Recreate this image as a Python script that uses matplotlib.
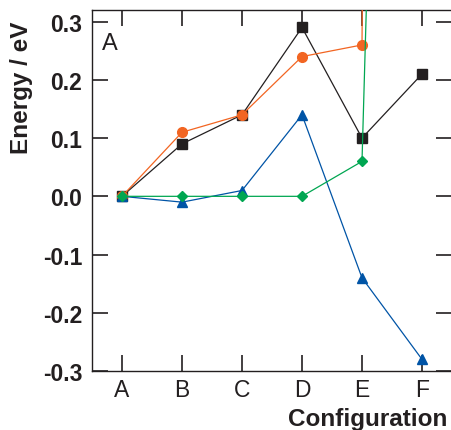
import matplotlib
matplotlib.use("Agg")
import matplotlib.pyplot as plt

configs = ["A", "B", "C", "D", "E", "F"]
black_sq = [0.0, 0.09, 0.14, 0.29, 0.10, 0.21]
orange_ci = [0.0, 0.11, 0.14, 0.24, 0.26, 15.0]
blue_tri = [0.0, -0.01, 0.01, 0.14, -0.14, -0.28]
green_di = [0.0, 0.0, 0.0, 0.0, 0.06, 3.7]
yticks = [-0.3, -0.2, -0.1, 0.0, 0.1, 0.2, 0.3]

plt.rcParams['font.family'] = ['Liberation Sans', 'DejaVu Sans']

fig = plt.figure(figsize=(4.52, 4.31), dpi=100)
ax = fig.add_axes([92/452, 59/431, 360/452, 361/431])

x = list(range(len(configs)))
ax.plot(x, black_sq, color='#231f20', lw=0.9, marker='s', ms=7, zorder=3)
ax.plot(x, orange_ci, color='#f26522', lw=0.9, marker='o', ms=7, zorder=4)
ax.plot(x, blue_tri, color='#0054a6', lw=0.9, marker='^', ms=7, zorder=5)
ax.plot(x, green_di, color='#00a651', lw=0.9, marker='D', ms=5, zorder=6)

ax.set_xlim(-0.5, 5.5)
ax.set_ylim(-0.3, 0.32)
ax.set_xticks(x)
ax.set_xticklabels(configs, fontsize=16.5)
ax.set_yticks(yticks)
ax.set_yticklabels([f"{v:.1f}" for v in yticks], fontsize=16.5, fontweight='bold')

ax.tick_params(axis='both', direction='in', length=11.5, width=1.2, color='#231f20',
               top=True, right=True, labelcolor='#231f20')
ax.tick_params(axis='y', pad=7)
ax.tick_params(axis='x', pad=5)
for side in ['left', 'bottom', 'top']:
    ax.spines[side].set_linewidth(1.0)
    ax.spines[side].set_color('#231f20')
ax.spines['right'].set_visible(False)

ax.text(0.028, 0.892, "A", transform=ax.transAxes, fontsize=17, color='#231f20',
        ha='left', va='baseline')

fig.text(22/452, 1 - 88/431, "Energy / eV", rotation=90, ha='center', va='center',
         fontsize=17.5, fontweight='bold', color='#231f20')
fig.text(447/452, 1 - 426/431, "Configuration", ha='right', va='baseline',
         fontsize=17.5, fontweight='bold', color='#231f20')

fig.savefig("out.png", dpi=100)
